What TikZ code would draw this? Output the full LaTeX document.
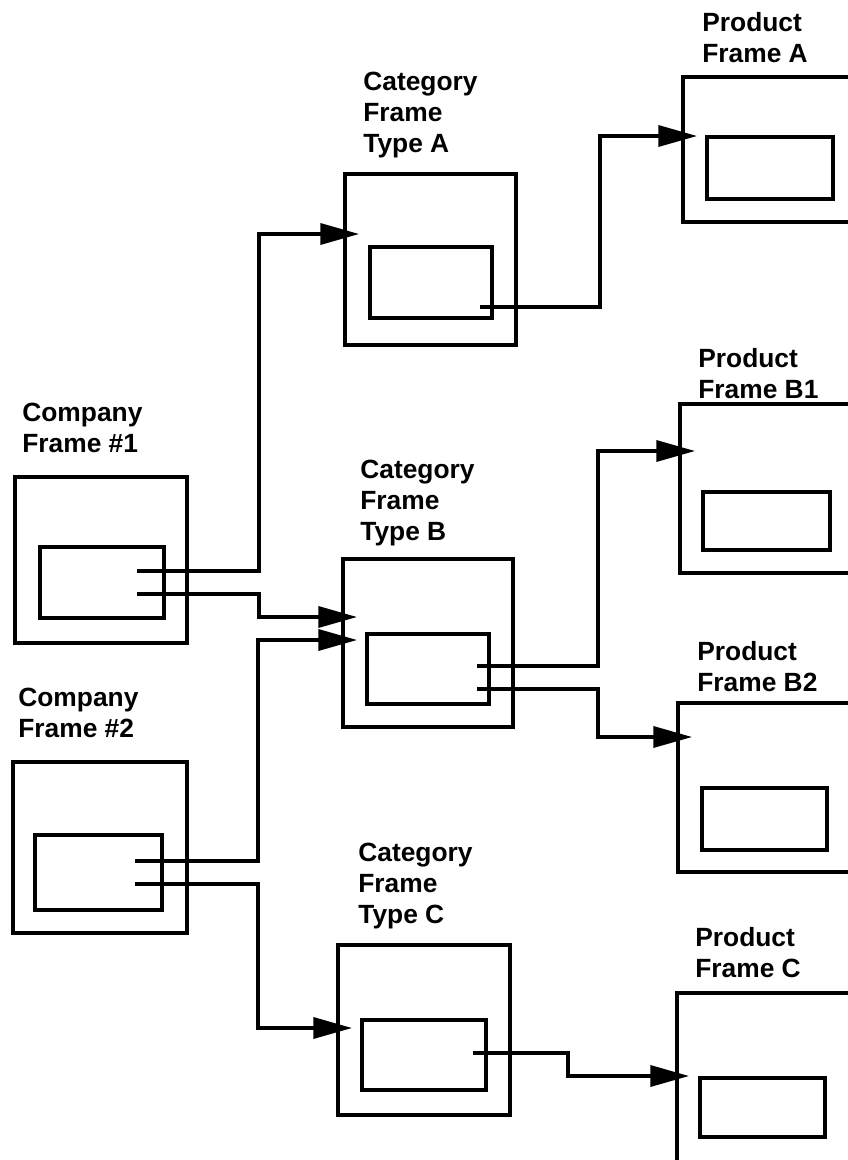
\documentclass[tikz,border=0pt]{standalone}
\usepackage{fontspec}
\setmainfont{Liberation Sans}
\usepackage{tikz}
\usetikzlibrary{arrows.meta,fit}
\def\nestbox(#1)(#2:#3)(#4:#5){\node[outerbox, fit={(#2) (#3)}] (#1) {}; \node[innerbox, fit={(#4) (#5)}] (#1in) {};}

\begin{document}
\begin{tikzpicture}[x=0.02cm, y=-0.02cm,
		outerbox/.style={draw, line width=2pt, inner sep=0pt},
		innerbox/.style={draw, line width=2pt, inner sep=0pt},
		caption/.style={font=\bfseries\fontsize{15}{17.6}\selectfont, align=left, inner sep=0pt, anchor=base west},
		link/.style={line width=1.8pt, -{Triangle[length=22pt, width=12pt]}}]
		%%%%% START %%%%%
		
		\useasboundingbox (0, 0) rectangle (848, 1160);
		\clip (0, 0) rectangle (848, 1160);
		\fill[white] (0, 0) rectangle (848, 1160);
		
		\nestbox(co1)(15,477:187,643)(40,547:164,618)
		\nestbox(co2)(13,762:187,933)(35,835:162,910)
		
		\nestbox(ctA)(345,174:516,345)(370,247:492,318)
		\nestbox(ctB)(343,559:513,727)(367,634:489,704)
		\nestbox(ctC)(338,945:510,1115)(362,1020:486,1090)
		
		\nestbox(prA)(683,77:880,222)(707,137:833,199)
		\nestbox(prB1)(680,404:880,573)(703,492:830,550)
		\nestbox(prB2)(678,703:880,872)(702,788:827,850)
		\nestbox(prC)(677,993:880,1190)(700,1078:825,1137)
		
		% captions sit on the baseline of their last line
		\node[caption] (co1lbl) at (22, 452) {Company\\Frame \#1};
		\node[caption] (co2lbl) at (18, 737) {Company\\Frame \#2};
		\node[caption] (ctAlbl) at (363, 152) {Category\\Frame\\Type A};
		\node[caption] (ctBlbl) at (360, 540) {Category\\Frame\\Type B};
		\node[caption] (ctClbl) at (358, 923) {Category\\Frame\\Type C};
		\node[caption] (prAlbl) at (702, 62) {Product\\Frame A};
		\node[caption] (prB1lbl) at (698, 398) {Product\\Frame B1};
		\node[caption] (prB2lbl) at (697, 691) {Product\\Frame B2};
		\node[caption] (prClbl) at (695, 977) {Product\\Frame C};
		
		% ports inside the slots
		\coordinate (co1a) at (137, 571);
		\coordinate (co1b) at (137, 594);
		\coordinate (co2a) at (135, 861);
		\coordinate (co2b) at (135, 884);
		\coordinate (ctAa) at (480, 307);
		\coordinate (ctBa) at (477, 666);
		\coordinate (ctBb) at (477, 689);
		\coordinate (ctCa) at (473, 1053);
		
		% arrow tips
		\coordinate (ctAin) at (359, 234);
		\coordinate (ctBin1) at (357, 617);
		\coordinate (ctBin2) at (357, 640);
		\coordinate (ctCin) at (352, 1028);
		\coordinate (prAin) at (697, 136);
		\coordinate (prB1in) at (695, 451);
		\coordinate (prB2in) at (692, 737);
		\coordinate (prCin) at (689, 1076);
		
		\draw[link] (co1a) -- ++(122, 0) |- (ctAin);
		\draw[link] (co1b) -- ++(122, 0) |- (ctBin1);
		\draw[link] (co2a) -- ++(123, 0) |- (ctBin2);
		\draw[link] (co2b) -- ++(123, 0) |- (ctCin);
		
		\draw[link] (ctAa) -- ++(120, 0) |- (prAin);
		\draw[link] (ctBa) -- ++(121, 0) |- (prB1in);
		\draw[link] (ctBb) -- ++(121, 0) |- (prB2in);
		\draw[link] (ctCa) -- ++(95, 0) |- (prCin);
		
		%%%%% END %%%%%
	\end{tikzpicture}
\end{document}
